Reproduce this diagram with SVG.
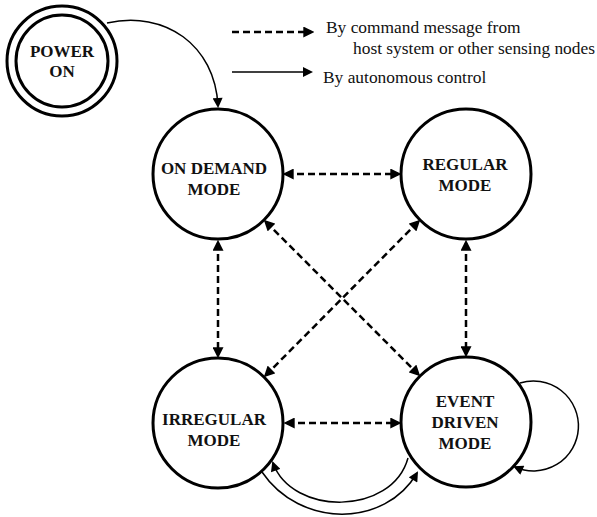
<svg xmlns="http://www.w3.org/2000/svg" width="597" height="517" viewBox="0 0 597 517">
<style>
.node{fill:#fff;stroke:#000;stroke-width:3}
.lbl{font-family:"Liberation Serif","Times New Roman",serif;font-weight:bold;font-size:17px;fill:#111;text-anchor:middle}
.leg{font-family:"Liberation Serif","Times New Roman",serif;font-size:17.4px;fill:#111}
.dash{fill:none;stroke:#000;stroke-width:2.5;stroke-dasharray:7,4;marker-start:url(#ad);marker-end:url(#ad)}
.solid{fill:none;stroke:#000;stroke-width:1.5;marker-end:url(#as)}
</style>
<defs>
<marker id="ad" viewBox="0 0 10 10" refX="7" refY="5" markerWidth="11" markerHeight="11" markerUnits="userSpaceOnUse" orient="auto-start-reverse">
<path d="M0,0 L10,5 L0,10 z" fill="#000"/>
</marker>
<marker id="as" viewBox="0 0 10 10" refX="8" refY="5" markerWidth="11" markerHeight="10" markerUnits="userSpaceOnUse" orient="auto">
<path d="M0,0 L10,5 L0,10 z" fill="#000"/>
</marker>
</defs>
<g id="legend">
<line x1="232" y1="32" x2="311" y2="32" style="fill:none;stroke:#000;stroke-width:2.5;stroke-dasharray:7,4;marker-end:url(#ad)"/>
<text class="leg" x="326" y="33">By command message from</text>
<text class="leg" x="353" y="54">host system or other sensing nodes</text>
<line x1="232" y1="72" x2="311" y2="72" class="solid"/>
<text class="leg" x="323" y="83">By autonomous control</text>
</g>
<g id="connectors">
<path class="solid" d="M107,23 C165,10 215,45 218,106"/>
<line class="dash" x1="286" y1="174" x2="398" y2="174"/>
<line class="dash" x1="218" y1="243" x2="218" y2="355"/>
<line class="dash" x1="466" y1="243" x2="466" y2="354"/>
<line class="dash" x1="287" y1="423" x2="398" y2="423"/>
<line class="dash" x1="266.1" y1="222.1" x2="417.9" y2="373.9"/>
<line class="dash" x1="417.9" y1="222.1" x2="266.1" y2="374.9"/>
<path class="solid" d="M262,472 C300,528 385,528 417,473"/>
<path class="solid" d="M408,458 C392,516 292,516 273,463"/>
<path class="solid" d="M520,383 A45,45 0 1,1 515,467"/>
</g>
<g id="power_on">
<circle class="node" cx="62" cy="61" r="55"/>
<circle class="node" cx="62" cy="61" r="46"/>
<text class="lbl" x="62" y="57">POWER</text>
<text class="lbl" x="62" y="77">ON</text>
</g>
<g id="on_demand">
<circle class="node" cx="218" cy="174" r="65"/>
<text class="lbl" x="214" y="174">ON DEMAND</text>
<text class="lbl" x="214" y="195">MODE</text>
</g>
<g id="regular">
<circle class="node" cx="466" cy="174" r="65"/>
<text class="lbl" x="465" y="170">REGULAR</text>
<text class="lbl" x="465" y="191">MODE</text>
</g>
<g id="irregular">
<circle class="node" cx="218" cy="423" r="65"/>
<text class="lbl" x="214" y="425">IRREGULAR</text>
<text class="lbl" x="214" y="446">MODE</text>
</g>
<g id="event_driven">
<circle class="node" cx="466" cy="422" r="65"/>
<text class="lbl" x="465" y="407">EVENT</text>
<text class="lbl" x="465" y="428">DRIVEN</text>
<text class="lbl" x="465" y="449">MODE</text>
</g>
</svg>
